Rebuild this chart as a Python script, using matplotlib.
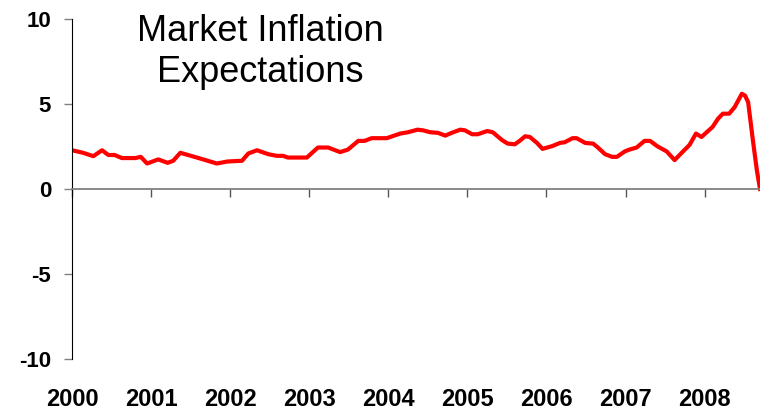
import matplotlib.pyplot as plt

plt.rcParams['font.family'] = ['Liberation Sans', 'DejaVu Sans']

# decimal year / expected inflation (%)
years = [2000.00, 2000.14, 2000.27, 2000.38, 2000.46, 2000.54, 2000.63, 2000.80,
         2000.87, 2000.95, 2001.09, 2001.21, 2001.28, 2001.37, 2001.49, 2001.66,
         2001.83, 2001.97, 2002.15, 2002.23, 2002.34, 2002.48, 2002.59, 2002.67,
         2002.73, 2002.97, 2003.11, 2003.24, 2003.39, 2003.49, 2003.62, 2003.70,
         2003.79, 2003.98, 2004.15, 2004.25, 2004.37, 2004.44, 2004.53, 2004.63,
         2004.72, 2004.80, 2004.91, 2004.97, 2005.06, 2005.13, 2005.25, 2005.32,
         2005.44, 2005.51, 2005.60, 2005.66, 2005.73, 2005.79, 2005.88, 2005.95,
         2006.07, 2006.17, 2006.23, 2006.33, 2006.38, 2006.49, 2006.59, 2006.65,
         2006.74, 2006.83, 2006.89, 2006.99, 2007.05, 2007.14, 2007.24, 2007.31,
         2007.40, 2007.52, 2007.62, 2007.71, 2007.81, 2007.89, 2007.96, 2008.10,
         2008.17, 2008.23, 2008.31, 2008.38, 2008.47, 2008.51, 2008.55, 2008.61,
         2008.66, 2008.70]
inflation = [2.28, 2.13, 1.93, 2.28, 2.00, 2.00, 1.82, 1.82,
             1.89, 1.50, 1.74, 1.54, 1.66, 2.13, 1.97, 1.74,
             1.50, 1.62, 1.66, 2.09, 2.28, 2.05, 1.95, 1.95,
             1.85, 1.85, 2.44, 2.44, 2.17, 2.32, 2.83, 2.83,
             2.99, 2.99, 3.26, 3.34, 3.49, 3.45, 3.34, 3.30,
             3.14, 3.30, 3.49, 3.45, 3.22, 3.22, 3.41, 3.34,
             2.87, 2.67, 2.63, 2.83, 3.10, 3.06, 2.71, 2.36,
             2.52, 2.71, 2.75, 2.99, 2.99, 2.71, 2.67, 2.44,
             2.05, 1.89, 1.89, 2.21, 2.32, 2.44, 2.83, 2.83,
             2.52, 2.21, 1.70, 2.13, 2.60, 3.26, 3.06, 3.65,
             4.14, 4.43, 4.43, 4.82, 5.60, 5.50, 5.11, 2.87,
             1.11, 0.00]

year_ticks = [2000, 2001, 2002, 2003, 2004, 2005, 2006, 2007, 2008]
y_ticks = [-10, -5, 0, 5, 10]

fig = plt.figure(figsize=(7.6, 4.12), dpi=100)
ax = fig.add_axes([0.0947, 0.1286, 0.9053, 0.8253])

ax.plot(years, inflation, color='#ff0000', lw=3, solid_joinstyle='round')

ax.set_xlim(2000, 2008.70)
ax.set_ylim(-10, 10)

ax.spines['top'].set_visible(False)
ax.spines['right'].set_visible(False)
ax.spines['left'].set_color('black')
ax.spines['bottom'].set_position(('data', 0))
ax.spines['bottom'].set_color('#808080')
ax.spines['bottom'].set_linewidth(1.3)

ax.set_xticks(year_ticks)
ax.tick_params(axis='x', direction='out', length=6, width=1, color='#555555',
               labelbottom=False)
ax.set_yticks(y_ticks)
ax.set_yticklabels([str(v) for v in y_ticks], fontsize=16, fontweight='bold')
ax.tick_params(axis='y', direction='out', length=6, width=1, color='#808080', pad=9)

# year labels sit below the plot area
sec = ax.secondary_xaxis('bottom')
sec.spines['bottom'].set_visible(False)
sec.set_xticks(year_ticks)
sec.set_xticklabels([str(y) for y in year_ticks], fontsize=17, fontweight='bold')
sec.tick_params(length=0, pad=21)

fig.text(0.342, 0.965, 'Market Inflation\nExpectations', ha='center', va='top',
         fontsize=26, linespacing=1.2)

fig.savefig('out.png', dpi=100)
